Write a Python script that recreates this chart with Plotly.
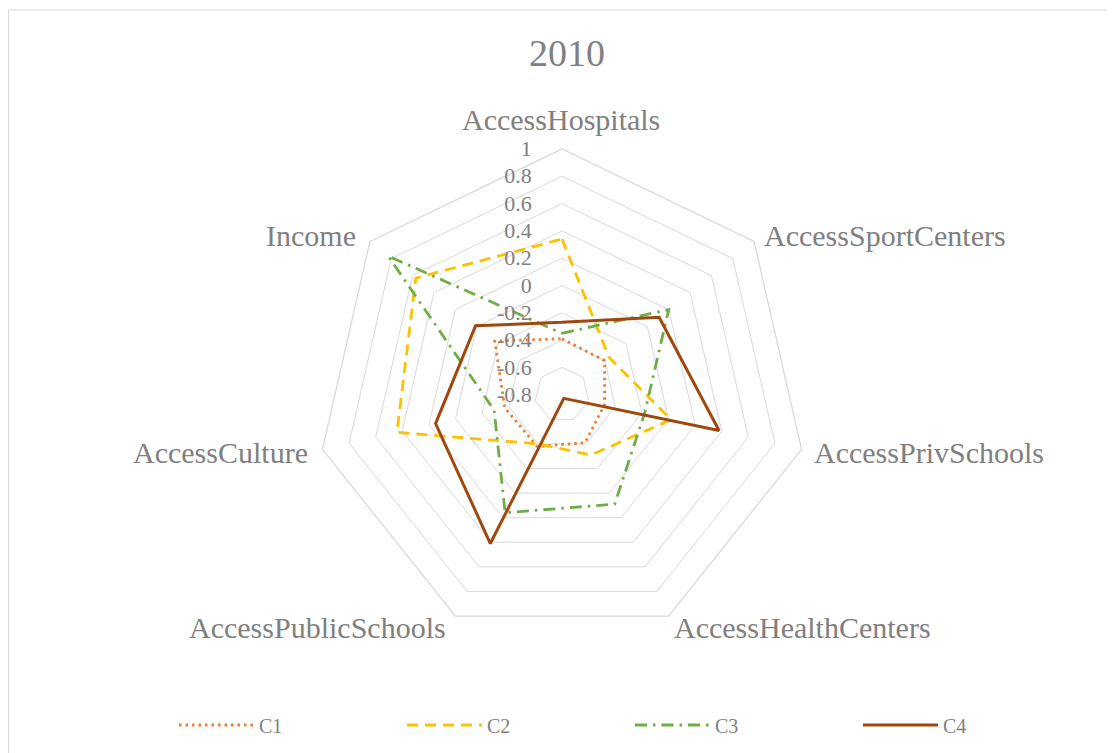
import math
import plotly.graph_objects as go

# ── Data ──────────────────────────────────────────────────────────────────────

categories = [
    "AccessHospitals", "AccessSportCenters", "AccessPrivSchools",
    "AccessHealthCenters", "AccessPublicSchools", "AccessCulture", "Income",
]
c1 = [-0.39, -0.40, -0.48, -0.41, -0.38, -0.37, -0.17]
c2 = [0.34, -0.36, 0.02, -0.31, -0.40, 0.44, 0.57]
c3 = [-0.35, 0.20, -0.18, 0.09, 0.16, -0.29, 0.83]
c4 = [-0.27, 0.11, 0.38, -0.77, 0.41, 0.15, 0.01]
radial_ticks = [-0.8, -0.6, -0.4, -0.2, 0, 0.2, 0.4, 0.6, 0.8, 1]

# name, values, colour, dash pattern, width
series = [
    ("C1", c1, "#ED7D31", "2.5px,4px", 2.8),
    ("C2", c2, "#FFC000", "11px,7px", 2.8),
    ("C3", c3, "#70AD47", "12px,6px,2.5px,6px", 2.8),
    ("C4", c4, "#9E480E", "solid", 3),
]

# page has an 8px body margin, so the figure is a bit smaller than the window
OFF = 8
W, H = 1115 - OFF, 753 - OFF
GREY = "#808080"
FONT = "Liberation Serif, Times New Roman, serif"


def px(x):  # page x pixel -> paper
    return (x - OFF) / W


def py(y):  # page y pixel -> paper
    return 1 - (y - OFF) / H


# polar centre / radius in page pixels
cx, cy, rad = 562, 394.7, 245.7

fig = go.Figure()
for name, vals, color, dash, width in series:
    fig.add_trace(go.Scatterpolar(
        r=vals + [vals[0]],  # close the polygon
        theta=categories + [categories[0]],
        mode="lines",
        name=name,
        line=dict(color=color, dash=dash, width=width),
    ))

# ── Category labels (Excel puts them a bit differently than plotly) ──────────
# (x shift px, y shift px, xanchor) relative to the outer vertex
label_pos = [
    (-1, -29, "center"), (8, -6, "left"), (10, 3, "left"),
    (3, 11, "left"), (-7, 11, "right"), (-12, 3, "right"), (-12, -6, "right"),
]
annotations = []
n = len(categories)
for k, (cat, (sx, sy, xa)) in enumerate(zip(categories, label_pos)):
    a = 2 * math.pi * k / n
    vx = cx + rad * math.sin(a) + sx
    vy = cy - rad * math.cos(a) + sy
    annotations.append(dict(
        text=cat, x=px(vx), y=py(vy), xref="paper", yref="paper",
        xanchor=xa, yanchor="middle", showarrow=False,
        font=dict(size=30, color=GREY, family=FONT),
    ))

fig.update_layout(
    width=W, height=H,
    margin=dict(l=0, r=0, t=0, b=0),
    paper_bgcolor="white",
    font=dict(family=FONT, color=GREY),
    title=dict(text="2010", x=px(567), y=py(53),
               xanchor="center", yanchor="middle",
               font=dict(size=38, color=GREY, family=FONT)),
    polar=dict(
        domain=dict(x=[px(cx - rad), px(cx + rad)],
                    y=[py(cy + rad), py(cy - rad)]),
        gridshape="linear",
        bgcolor="white",
        radialaxis=dict(
            range=[-0.8, 1],
            tickvals=radial_ticks,
            ticktext=[f"{v:g}" for v in radial_ticks],
            angle=90, tickangle=90, side="counterclockwise",
            showline=False, ticks="outside", ticklen=22,
            tickcolor="rgba(0,0,0,0)",
            gridcolor="#d9d9d9", gridwidth=1.3,
            tickfont=dict(size=22, color=GREY, family=FONT),
        ),
        angularaxis=dict(
            direction="clockwise", rotation=90,
            showgrid=False, ticks="", showticklabels=False,
            showline=True, linecolor="#d9d9d9", linewidth=1.3,
        ),
    ),
    annotations=annotations,
    legend=dict(
        orientation="h", x=px(630), xanchor="center",
        y=py(725), yanchor="middle",
        entrywidth=138, itemwidth=75,
        font=dict(size=20, color=GREY, family=FONT),
    ),
    shapes=[dict(type="rect", xref="paper", yref="paper",
                 x0=px(8.5), x1=px(1110), y0=-0.02, y1=py(10),
                 line=dict(color="#d9d9d9", width=1))],
)

fig.write_html("out.html")
